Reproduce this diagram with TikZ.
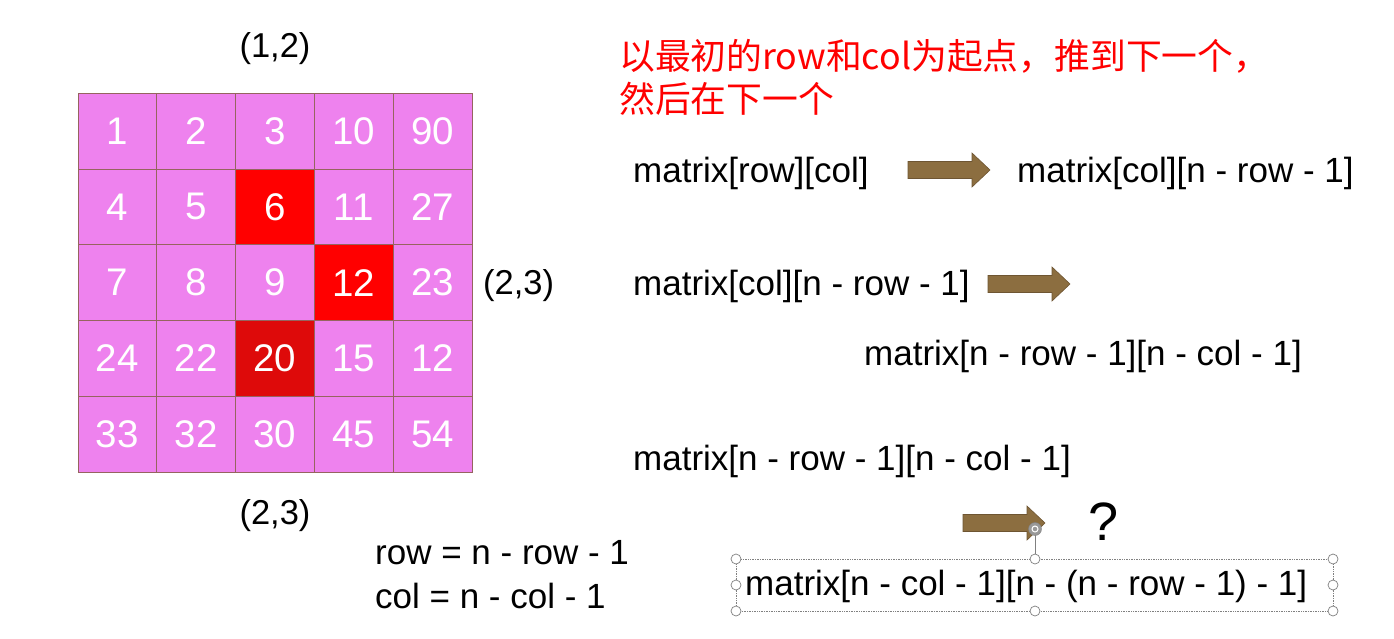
\documentclass[tikz,border=0pt]{standalone}
\usepackage{fontspec}
\setmainfont{Liberation Sans}
\newfontfamily\cjk{Noto Sans CJK SC}
\definecolor{cellpink}{RGB}{238,130,238}
\definecolor{cellred}{RGB}{255,0,0}
\definecolor{celldark}{RGB}{222,10,10}
\definecolor{gridline}{RGB}{150,100,95}
\definecolor{arrowfill}{RGB}{140,110,64}
\definecolor{arrowline}{RGB}{110,85,50}
\newcommand\blockarrow[3]{%
  \draw[arrowbox] ({#1},{#3-8.5}) -- ({#2-18},{#3-8.5}) -- ({#2-18},{#3-17}) -- ({#2},{#3}) -- ({#2-18},{#3+17}) -- ({#2-18},{#3+8.5}) -- ({#1},{#3+8.5}) -- cycle;}
\begin{document}
\begin{tikzpicture}[x=1pt,y=-1pt,
  cell/.style={draw=gridline, line width=0.8pt, fill=cellpink, minimum width=78.8pt, minimum height=75.8pt, inner sep=0pt, text=white, font=\fontsize{38.5}{40}\selectfont},
  redcell/.style={cell, fill=cellred},
  darkcell/.style={cell, fill=celldark},
  label/.style={inner sep=0pt, font=\fontsize{34.5}{40}\selectfont},
  formula/.style={inner sep=0pt, anchor=west, font=\fontsize{35}{40}\selectfont},
  note/.style={inner sep=0pt, anchor=west, text=red, font=\cjk\fontsize{35.8}{40}\selectfont},
  arrowbox/.style={fill=arrowfill, draw=arrowline, line width=0.6pt},
  handle/.style={circle, draw=gray, fill=white, line width=0.7pt, minimum size=10pt, inner sep=0pt},
]
\useasboundingbox[fill=white] (0,0) rectangle (1394,638);

% grid
\node[cell] (c11) at (117.4,131) {1};
\node[cell] (c12) at (196.2,131) {2};
\node[cell] (c13) at (275,131) {3};
\node[cell] (c14) at (353.8,131) {10};
\node[cell] (c15) at (432.6,131) {90};
\node[cell] (c21) at (117.4,206.8) {4};
\node[cell] (c22) at (196.2,206.8) {5};
\node[redcell] (c23) at (275,206.8) {6};
\node[cell] (c24) at (353.8,206.8) {11};
\node[cell] (c25) at (432.6,206.8) {27};
\node[cell] (c31) at (117.4,282.6) {7};
\node[cell] (c32) at (196.2,282.6) {8};
\node[cell] (c33) at (275,282.6) {9};
\node[redcell] (c34) at (353.8,282.6) {12};
\node[cell] (c35) at (432.6,282.6) {23};
\node[cell] (c41) at (117.4,358.4) {24};
\node[cell] (c42) at (196.2,358.4) {22};
\node[darkcell] (c43) at (275,358.4) {20};
\node[cell] (c44) at (353.8,358.4) {15};
\node[cell] (c45) at (432.6,358.4) {12};
\node[cell] (c51) at (117.4,434.2) {33};
\node[cell] (c52) at (196.2,434.2) {32};
\node[cell] (c53) at (275,434.2) {30};
\node[cell] (c54) at (353.8,434.2) {45};
\node[cell] (c55) at (432.6,434.2) {54};

% coordinate labels
\node[label] (ltop) at (275,49) {(1,2)};
\node[label, anchor=west] (lright) at (483,286) {(2,3)};
\node[label] (lbot) at (275,516) {(2,3)};

% red note
\node[note] (n1) at (619,56) {以最初的row和col为起点，推到下一个，};
\node[note] (n2) at (619,99) {然后在下一个};

% formulas
\node[formula] (f1) at (633,173) {matrix[row][col]};
\node[formula] (f2) at (1017,173) {matrix[col][n - row - 1]};
\node[formula] (f3) at (633,286) {matrix[col][n - row - 1]};
\node[formula] (f4) at (864,356) {matrix[n - row - 1][n - col - 1]};
\node[formula] (f5) at (633,461) {matrix[n - row - 1][n - col - 1]};
\node[formula] (f6) at (745,586) {matrix[n - col - 1][n - (n - row - 1) - 1]};
\node[formula] (r1) at (375,553) {row = n - row - 1};
\node[formula] (r2) at (375,596) {col = n - col - 1};
\node[inner sep=0pt, font=\fontsize{54}{60}\selectfont] (q) at (1104,522) {?};

% block arrows
\blockarrow{908}{990}{170}
\blockarrow{988}{1070}{284}
\blockarrow{963}{1045}{523}

% selection box around f6
\coordinate (s1) at (736,559);
\coordinate (s2) at (1333,611);
\draw[gray, densely dotted, line width=0.7pt] (s1) rectangle (s2);
\coordinate (rot) at (1035,529);
\draw[gray, line width=0.7pt] (1035,559) -- (rot);
\node[circle, fill=gray!80, draw=gray, minimum size=13pt, inner sep=0pt] (roth) at (rot) {};
\node[circle, draw=white, line width=1pt, minimum size=6pt, inner sep=0pt] at (rot) {};
\foreach \px in {736,1035,1333}{
  \node[handle] at (\px,559) {};
  \node[handle] at (\px,611) {};
}
\node[handle] at (736,585) {};
\node[handle] at (1333,585) {};
\end{tikzpicture}
\end{document}
